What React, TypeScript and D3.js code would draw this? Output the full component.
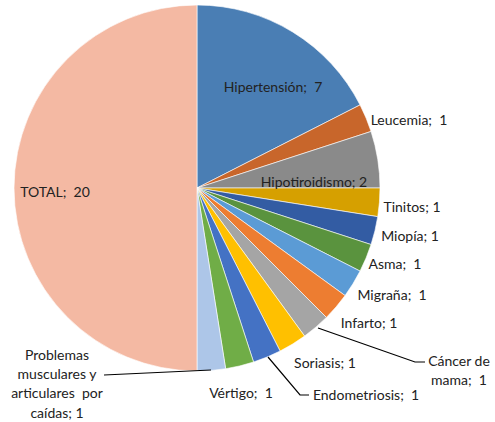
import React from "react";
import * as d3 from "d3";

const categories = [
  "Hipertensión", "Leucemia", "Hipotiroidismo", "Tinitos", "Miopía", "Asma",
  "Migraña", "Infarto", "Cáncer de mama", "Soriasis", "Endometriosis", "Vértigo",
  "Problemas musculares y articulares por caídas", "TOTAL",
];
const values = [7, 1, 2, 1, 1, 1, 1, 1, 1, 1, 1, 1, 1, 20];
const colors = [
  "#4A7EB4", "#C8662B", "#8A8A8A", "#D6A000", "#335CA3", "#5A933E",
  "#5B9BD5", "#ED7D31", "#A5A5A5", "#FFC000", "#4472C4", "#70AD47",
  "#ADC6E8", "#F4B9A3",
];
// label layout: lines, anchor point, optional leader polyline
const labelLines: string[][] = [
  ["Hipertensión;  7"], ["Leucemia;  1"], ["Hipotiroidismo; 2"], ["Tinitos; 1"],
  ["Miopía; 1"], ["Asma;  1"], ["Migraña;  1"], ["Infarto; 1"],
  ["Cáncer de", "mama;  1"], ["Soriasis; 1"], ["Endometriosis;  1"], ["Vértigo;  1"],
  ["Problemas", "musculares y", "articulares  por", "caídas; 1"], ["TOTAL;  20"],
];
const labelAt: [number, number][] = [
  [273, 87], [409, 120], [314, 182], [412, 207], [410, 236], [395, 264],
  [392, 295], [369, 323], [459, 361], [325, 363], [366, 395], [241, 393],
  [57, 355], [55, 192],
];
const leaders: Record<number, [number, number][]> = {
  8: [[318, 328], [415, 362], [425, 362]],
  10: [[268, 357], [300, 395], [309, 395]],
  12: [[211, 370], [104, 375]],
};

const W = 495, H = 422;
const cx = 197, cy = 188, R = 183;

export default function App() {
  const pie = d3.pie<number>().sort(null).value((d) => d)(values);
  const arc = d3.arc<d3.PieArcDatum<number>>().innerRadius(0).outerRadius(R);
  const line = d3.line();
  return (
    <svg width={W} height={H} style={{ position: "absolute", left: 0, top: 0, background: "#fff" }}
      fontFamily="Lato, 'Open Sans', sans-serif" fontSize={14}>
      <g transform={`translate(${cx},${cy})`}>
        {pie.map((p, i) => (
          <path key={categories[i]} d={arc(p) || ""} fill={colors[i]} stroke="#fff" strokeWidth={0.6} />
        ))}
      </g>
      {Object.entries(leaders).map(([k, pts]) => (
        <path key={k} d={line(pts) || ""} fill="none" stroke="#000" strokeWidth={1.2} />
      ))}
      {labelLines.map((lines, i) => {
        const [x, y] = labelAt[i];
        return (
          <text key={i} x={x} y={y} textAnchor="middle" fill="#222" style={{ whiteSpace: "pre" }}>
            {lines.map((l, j) => (
              <tspan key={j} x={x} y={y + j * 19.2} dy="0.35em">{l}</tspan>
            ))}
          </text>
        );
      })}
    </svg>
  );
}
